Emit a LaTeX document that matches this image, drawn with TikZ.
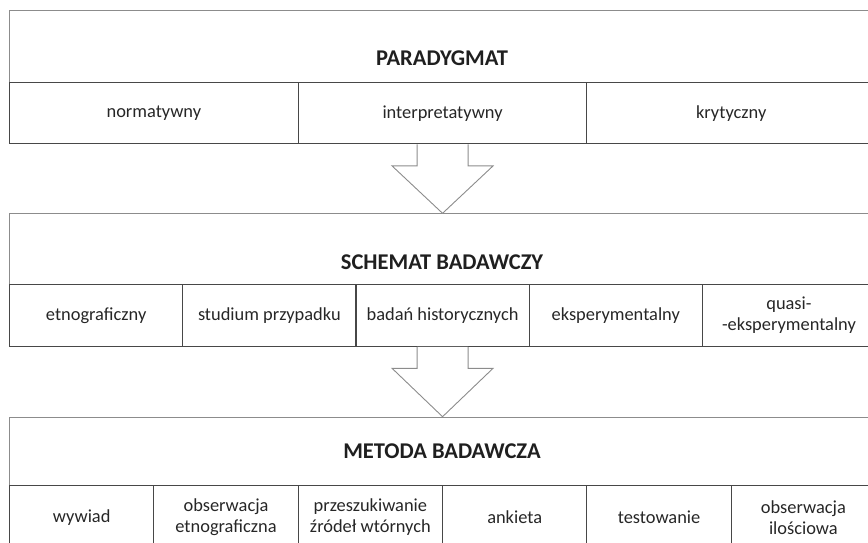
\documentclass[tikz,border=0pt]{standalone}
\usepackage{fontspec}
\setmainfont{Carlito}
\usetikzlibrary{calc}
\begin{document}
\begin{tikzpicture}[x=1pt,y=-1pt,
  band/.style={draw=black!45, line width=1pt, anchor=north west, inner sep=0pt, minimum width=866pt},
  cell/.style={draw=black!72, line width=1.1pt, anchor=north west, inner sep=0pt, align=center,
     text=black!85, font=\fontsize{18.4}{21}\selectfont},
  head/.style={text=black!88, font=\bfseries\fontsize{22.5}{26}\selectfont},
  arrfill/.style={fill=white, draw=none},
  arr/.style={draw=black!45, line width=0.9pt, line join=miter}]
\useasboundingbox (0,0) rectangle (868,542);
\begin{scope}
\clip (0,0) rectangle (868,542);
% bands
\node[band, minimum height=72pt] (b1) at (9,10) {};
\node[band, minimum height=71pt] (b2) at (9,213.3) {};
\node[band, minimum height=68.3pt] (b3) at (9,416.7) {};
\node[head] (h1) at (442,58) {PARADYGMAT};
\node[head] (h2) at (442,262) {SCHEMAT BADAWCZY};
\node[head] (h3) at (442,451) {METODA BADAWCZA};
% row 1
\foreach \i/\t in {0/normatywny,1/interpretatywny,2/krytyczny}{
  \node[cell, minimum width=288.67pt, minimum height=61.3pt] (r1c\i) at ({9+288.67*\i},82) {\t};
}
% row 2
\foreach \i/\t in {0/etnograficzny,1/studium przypadku,2/badań historycznych,3/eksperymentalny,4/{quasi-\\-eksperymentalny}}{
  \node[cell, minimum width=173.2pt, minimum height=61.4pt] (r2c\i) at ({9+173.2*\i},284.3) {\t};
}
% row 3
\foreach \i/\t in {0/wywiad,1/{obserwacja\\etnograficzna},2/{przeszukiwanie\\źródeł wtórnych},3/ankieta,4/testowanie,5/{obserwacja\\ilościowa}}{
  \node[cell, minimum width=144.33pt, minimum height=64pt] (r3c\i) at ({9+144.33*\i},485) {\t};
}
% arrows
\foreach \top/\bot in {r1c1/b2, r2c2/b3}{
  \coordinate (ta) at ($(\top.south west)!0.5!(\top.south east)$);
  \coordinate (tb) at (\bot.north -| ta);
  \path[arrfill] ($(ta)+(-25.5,0)$) -- ($(ta)+(-25.5,21.5)$) -- ($(ta)+(-50.5,21.5)$) -- (tb)
     -- ($(ta)+(50.5,21.5)$) -- ($(ta)+(25.5,21.5)$) -- ($(ta)+(25.5,0)$) -- cycle;
  \draw[arr] ($(ta)+(-25.5,0)$) -- ($(ta)+(-25.5,21.5)$) -- ($(ta)+(-50.5,21.5)$) -- (tb)
     -- ($(ta)+(50.5,21.5)$) -- ($(ta)+(25.5,21.5)$) -- ($(ta)+(25.5,0)$);
}
\end{scope}
\end{tikzpicture}
\end{document}
